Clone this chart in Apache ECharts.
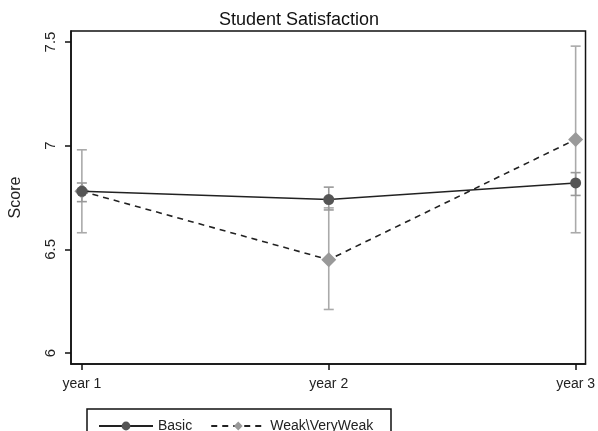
<!DOCTYPE html>
<html><head><meta charset="utf-8">
<script src="https://cdn.jsdelivr.net/npm/echarts@6/dist/echarts.min.js"></script>
<style>html,body{margin:0;padding:0;background:#fff}#c{width:598px;height:431px}</style>
</head><body><div id="c"></div>
<script>
const years = [1, 2, 3];
const yearLabels = ['year 1', 'year 2', 'year 3'];
const yTicks = [6, 6.5, 7, 7.5];
const basicMean = [6.78, 6.74, 6.82];
const basicLow = [6.73, 6.69, 6.76];
const basicHigh = [6.82, 6.80, 6.87];
const weakMean = [6.78, 6.45, 7.03];
const weakLow = [6.58, 6.21, 6.58];
const weakHigh = [6.98, 6.70, 7.48];

const FONT = 'Liberation Sans, Arial, sans-serif';
const chart = echarts.init(document.getElementById('c'));

function errSeries(name, low, high, color, z) {
  return {
    type: 'custom', name: name, z: z, silent: true,
    data: years.map((x, i) => [x, low[i], high[i]]),
    renderItem: function (params, api) {
      const lo = api.coord([api.value(0), api.value(1)]);
      const hi = api.coord([api.value(0), api.value(2)]);
      const w = 5;
      const st = { stroke: color, lineWidth: 1.6 };
      return { type: 'group', children: [
        { type: 'line', shape: { x1: lo[0], y1: lo[1], x2: hi[0], y2: hi[1] }, style: st },
        { type: 'line', shape: { x1: lo[0] - w, y1: lo[1], x2: lo[0] + w, y2: lo[1] }, style: st },
        { type: 'line', shape: { x1: hi[0] - w, y1: hi[1], x2: hi[0] + w, y2: hi[1] }, style: st }
      ]};
    }
  };
}

chart.setOption({
  animation: false,
  title: { text: 'Student Satisfaction', left: 'center', top: 6,
    textStyle: { fontFamily: FONT, fontSize: 18, fontWeight: 'normal', color: '#111' } },
  grid: { left: 66, right: 11, top: 31, bottom: 67, show: true, borderColor: '#111', borderWidth: 1.5 },
  legend: {
    data: ['Basic', 'Weak\\VeryWeak'], left: 93, top: 414, itemWidth: 54, itemHeight: 11, itemGap: 18,
    textStyle: { fontFamily: FONT, fontSize: 14, color: '#222' }
  },
  graphic: [{ type: 'rect', shape: { x: 87, y: 409, width: 304, height: 30 },
    style: { fill: 'none', stroke: '#111', lineWidth: 1.5 } }],
  xAxis: {
    type: 'value', min: 0.956, max: 3.04,
    axisLine: { lineStyle: { color: '#111', width: 1.5 } },
    axisTick: { show: true, customValues: years, length: 6, lineStyle: { color: '#111', width: 1.5 } },
    axisLabel: { customValues: years, formatter: v => yearLabels[Math.round(v) - 1],
      fontFamily: FONT, fontSize: 14, color: '#222', margin: 13 },
    splitLine: { show: false }
  },
  yAxis: {
    type: 'value', min: 5.947, max: 7.553, name: 'Score', nameLocation: 'middle', nameGap: 47,
    nameTextStyle: { fontFamily: FONT, fontSize: 16, color: '#222' },
    axisLine: { show: true, lineStyle: { color: '#111', width: 1.5 } },
    axisTick: { show: true, customValues: yTicks, length: 6, lineStyle: { color: '#111', width: 1.5 } },
    axisLabel: { customValues: yTicks, rotate: 90, formatter: v => String(v),
      fontFamily: FONT, fontSize: 15, color: '#222', margin: 13 },
    splitLine: { show: false }
  },
  series: [
    errSeries('errWeak', weakLow, weakHigh, '#aaaaaa', 1),
    errSeries('errBasic', basicLow, basicHigh, '#999999', 2),
    { name: 'Basic', type: 'line', z: 4, data: years.map((x, i) => [x, basicMean[i]]),
      symbol: 'circle', symbolSize: 11, itemStyle: { color: '#555555' },
      lineStyle: { color: '#222', width: 1.6, type: 'solid' } },
    { name: 'Weak\\VeryWeak', type: 'line', z: 3, data: years.map((x, i) => [x, weakMean[i]]),
      symbol: 'diamond', symbolSize: 15, itemStyle: { color: '#999999' },
      lineStyle: { color: '#222', width: 1.6, type: [6, 5] } }
  ]
});
</script></body></html>
